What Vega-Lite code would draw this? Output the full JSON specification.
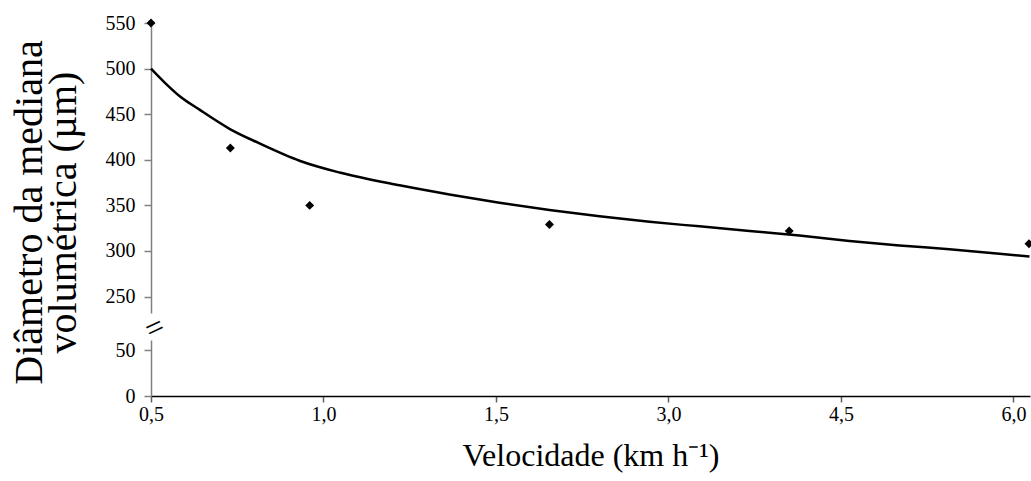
{
  "$schema": "https://vega.github.io/schema/vega-lite/v6.json",
  "background": "white",
  "padding": {"left": 8, "top": 13, "right": 0, "bottom": 4},
  "spacing": 27,
  "bounds": "flush",
  "config": {
    "view": {"stroke": null},
    "font": "Liberation Serif",
    "axis": {"grid": false, "labelFont": "Liberation Serif", "titleFont": "Liberation Serif", "labelFontSize": 20, "labelColor": "black", "titleColor": "black", "titleFontWeight": "normal"}
  },
  "resolve": {"scale": {"y": "independent"}},
  "datasets": {
    "points": [
      {"pos": 0, "dmv": 550},
      {"pos": 0.46, "dmv": 413},
      {"pos": 0.92, "dmv": 350},
      {"pos": 2.31, "dmv": 329},
      {"pos": 3.7, "dmv": 322},
      {"pos": 5.09, "dmv": 308}
    ],
    "curve": [
      {"pos": 0, "dmv": 500},
      {"pos": 0.078, "dmv": 485},
      {"pos": 0.165, "dmv": 470},
      {"pos": 0.281, "dmv": 455},
      {"pos": 0.455, "dmv": 434},
      {"pos": 0.629, "dmv": 418},
      {"pos": 0.861, "dmv": 399},
      {"pos": 1.093, "dmv": 386},
      {"pos": 1.441, "dmv": 372},
      {"pos": 1.73, "dmv": 362},
      {"pos": 2.02, "dmv": 353},
      {"pos": 2.31, "dmv": 345},
      {"pos": 2.6, "dmv": 338},
      {"pos": 2.89, "dmv": 332},
      {"pos": 3.18, "dmv": 327},
      {"pos": 3.47, "dmv": 322},
      {"pos": 3.759, "dmv": 317},
      {"pos": 4.049, "dmv": 311},
      {"pos": 4.339, "dmv": 306},
      {"pos": 4.629, "dmv": 302},
      {"pos": 4.919, "dmv": 297},
      {"pos": 5.093, "dmv": 294}
    ],
    "breakmark": [
      {"pos": 0, "dmv": 72, "txt": "="}
    ]
  },
  "vconcat": [
    {
      "width": 879,
      "height": 290,
      "layer": [
        {
          "data": {"name": "curve"},
          "mark": {"type": "line", "color": "black", "strokeWidth": 2.5, "clip": false, "interpolate": "monotone"},
          "encoding": {
            "x": {"field": "pos", "type": "quantitative", "scale": {"domain": [0, 5.096], "nice": false}, "axis": null},
            "y": {"field": "dmv", "type": "quantitative", "scale": {"domain": [232, 550], "nice": false, "zero": false}}
          }
        },
        {
          "data": {"name": "points"},
          "mark": {"type": "point", "shape": "diamond", "filled": true, "color": "black", "size": 80, "opacity": 1, "clip": false},
          "encoding": {
            "x": {"field": "pos", "type": "quantitative", "scale": {"domain": [0, 5.096], "nice": false}, "axis": null},
            "y": {
              "field": "dmv", "type": "quantitative",
              "scale": {"domain": [232, 550], "nice": false, "zero": false},
              "axis": {
                "values": [250, 300, 350, 400, 450, 500, 550],
                "title": ["Diâmetro da mediana", "volumétrica (µm)"],
                "titleFontSize": 40,
                "titleLineHeight": 34,
                "titleAngle": -90,
                "titleAlign": "center",
                "titleBaseline": "top",
                "titleX": -142,
                "titleY": 189,
                "domainColor": "#808080",
                "domainWidth": 1.5,
                "tickColor": "#808080",
                "tickWidth": 1.5,
                "tickSize": 7,
                "labelPadding": 9
              }
            }
          }
        }
      ]
    },
    {
      "width": 879,
      "height": 56,
      "data": {"name": "breakmark"},
      "mark": {"type": "text", "fontSize": 32, "angle": -25, "color": "black", "font": "Liberation Serif", "dx": 4},
      "encoding": {
        "x": {
          "field": "pos", "type": "quantitative",
          "scale": {"domain": [0, 5.096], "nice": false},
          "axis": {
            "values": [0, 1, 2, 3, 4, 5],
            "labelExpr": "['0,5','1,0','1,5','3,0','4,5','6,0'][datum.value]",
            "title": "Velocidade (km h⁻¹)",
            "titleFontSize": 32,
            "titlePadding": 16,
            "domainColor": "black",
            "domainWidth": 1.5,
            "tickColor": "#606060",
            "tickWidth": 1.5,
            "tickSize": 6,
            "labelPadding": 2,
            "labelFlush": false
          }
        },
        "y": {
          "field": "dmv", "type": "quantitative",
          "scale": {"domain": [0, 61], "nice": false},
          "axis": {
            "values": [0, 50],
            "title": null,
            "domainColor": "#808080",
            "domainWidth": 1.5,
            "tickColor": "#808080",
            "tickWidth": 1.5,
            "tickSize": 7,
            "labelPadding": 9
          }
        },
        "text": {"field": "txt"}
      }
    }
  ]
}
